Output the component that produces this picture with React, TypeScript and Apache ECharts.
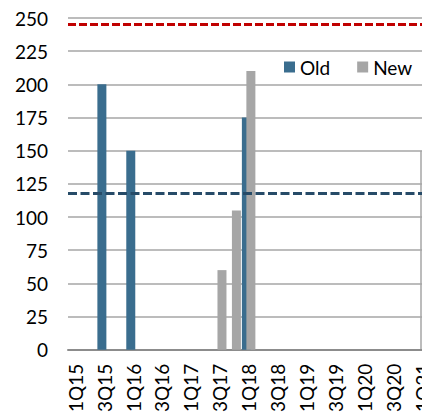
import React, { useEffect, useRef } from "react";
import * as echarts from "echarts";

const categories = [
  "1Q15", "2Q15", "3Q15", "4Q15",
  "1Q16", "2Q16", "3Q16", "4Q16",
  "1Q17", "2Q17", "3Q17", "4Q17",
  "1Q18", "2Q18", "3Q18", "4Q18",
  "1Q19", "2Q19", "3Q19", "4Q19",
  "1Q20", "2Q20", "3Q20", "4Q20",
  "1Q21", "2Q21", "3Q21", "4Q21",
];

const oldValues: (number | null)[] = [
  null, null, 200, null,
  150, null, null, null,
  null, null, null, null,
  175, null, null, null,
  null, null, null, null,
  null, null, null, null,
  null, null, null, null,
];

const newValues: (number | null)[] = [
  null, null, null, null,
  null, null, null, null,
  null, null, 60, 105,
  210, null, null, null,
  null, null, null, null,
  null, null, null, null,
  null, null, null, null,
];

const redLimit = 245;
const blueLimit = 118;
const yTicks = { min: 0, max: 250, interval: 25 };

const FONT = "Lato, 'Open Sans', sans-serif";

export default function App() {
  const ref = useRef<HTMLDivElement>(null);
  useEffect(() => {
    if (!ref.current) return;
    const chart = echarts.init(ref.current, undefined, { renderer: "svg" });
    const catW = 14.45;
    const gridW = categories.length * catW;
    chart.setOption({
      animation: false,
      backgroundColor: "#ffffff",
      textStyle: { fontFamily: FONT },
      grid: {
        left: 68,
        top: 18,
        width: gridW,
        height: 336.5,
        containLabel: false,
      },
      legend: {
        data: ["Old", "New"],
        orient: "horizontal",
        icon: "rect",
        padding: 0,
        itemWidth: 11,
        itemHeight: 11,
        itemGap: 27,
        left: 284,
        top: 57,
        textStyle: { fontSize: 19, color: "#000", fontFamily: FONT, lineHeight: 20 },
      },
      xAxis: {
        type: "category",
        data: categories,
        axisLine: { show: true, lineStyle: { color: "#8c8c8c", width: 2 } },
        axisTick: { show: false },
        splitLine: { show: false },
        axisLabel: {
          interval: 1,
          rotate: 90,
          margin: 14,
          fontSize: 19,
          color: "#000",
          fontFamily: FONT,
        },
      },
      yAxis: {
        type: "value",
        min: yTicks.min,
        max: yTicks.max,
        interval: yTicks.interval,
        axisLine: { show: false },
        axisTick: { show: false },
        splitLine: { show: true, lineStyle: { color: "#a6a6a6", width: 1.5 } },
        axisLabel: { fontSize: 19, color: "#000", margin: 20, fontFamily: FONT },
      },
      series: [
        {
          name: "Old",
          type: "bar",
          data: oldValues,
          barWidth: 9,
          barGap: "-50%",
          itemStyle: { color: "#3a6d8e" },
          markLine: {
            silent: true,
            symbol: "none",
            label: { show: false },
            data: [
              { yAxis: redLimit, lineStyle: { color: "#c00000", width: 3, type: [8, 3] } },
              { yAxis: blueLimit, lineStyle: { color: "#264b68", width: 3, type: [9, 3.5] } },
            ],
          },
        },
        {
          name: "New",
          type: "bar",
          data: newValues,
          barWidth: 9,
          barGap: "-50%",
          itemStyle: { color: "#a6a6a6" },
        },
      ],
    });
    const y150 = chart.convertToPixel({ yAxisIndex: 0 }, 150) as number;
    const y0 = chart.convertToPixel({ yAxisIndex: 0 }, 0) as number;
    chart.setOption({
      graphic: [
        {
          type: "line",
          shape: { x1: 421, y1: y150, x2: 421, y2: y0 },
          style: { stroke: "#a6a6a6", lineWidth: 1.5 },
          silent: true,
        },
      ],
    });
    return () => chart.dispose();
  }, []);
  return (
    <div
      style={{
        position: "fixed",
        left: 0,
        top: 0,
        width: 422,
        height: 415,
        overflow: "hidden",
        background: "#fff",
      }}
    >
      <div ref={ref} style={{ width: 500, height: 415 }} />
    </div>
  );
}
